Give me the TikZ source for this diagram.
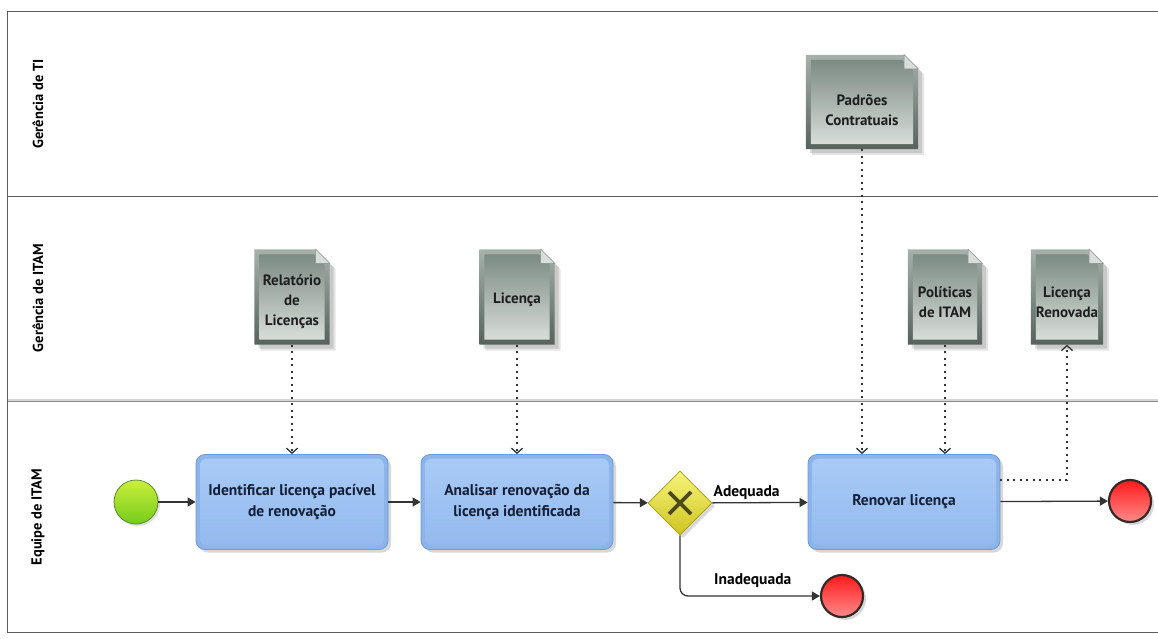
\documentclass[tikz,border=0pt]{standalone}
\usepackage{fontspec}
\setmainfont{PT Sans}
\usetikzlibrary{arrows.meta,shapes.geometric,shadows,calc,backgrounds}

\definecolor{laneline}{HTML}{5C5C5C}
\definecolor{lanesep}{HTML}{8A8A8A}
\definecolor{flowcol}{HTML}{333333}
\definecolor{taskedge}{HTML}{6E9AD6}
\definecolor{taskrim}{HTML}{8CB4EA}
\definecolor{tasktop}{HTML}{A9CBF6}
\definecolor{taskbot}{HTML}{92B9EE}
\definecolor{tasktext}{HTML}{141E36}
\definecolor{docrimtop}{HTML}{A7B1AC}
\definecolor{docrimbot}{HTML}{55635C}
\definecolor{docintop}{HTML}{7C8B84}
\definecolor{docinbot}{HTML}{D8DDDA}
\definecolor{docfold}{HTML}{D9DDDB}
\definecolor{doctext}{HTML}{1E1E1E}
\definecolor{gwtop}{HTML}{F5F47C}
\definecolor{gwbot}{HTML}{CFC420}
\definecolor{gwedge}{HTML}{A69A12}
\definecolor{gwmark}{HTML}{4C4A16}
\definecolor{starttop}{HTML}{CCEE3C}
\definecolor{startbot}{HTML}{74CC1C}
\definecolor{startedge}{HTML}{5C8A2C}
\definecolor{endtop}{HTML}{FF1A1A}
\definecolor{endbot}{HTML}{FF8A8A}
\definecolor{endedge}{HTML}{352828}

% Data object with a folded corner, drawn around an existing node
\newcommand{\drawdoc}[1]{%
  \fill[black,opacity=0.10] ($(#1.north west)+(6,6)$) -- ($(#1.north east)+(-8,6)$)
     -- ($(#1.north east)+(6,20)$) -- ($(#1.south east)+(6,6)$) -- ($(#1.south west)+(6,6)$) -- cycle;
  \fill[black,opacity=0.12] ($(#1.north west)+(4,4)$) -- ($(#1.north east)+(-10,4)$)
     -- ($(#1.north east)+(4,18)$) -- ($(#1.south east)+(4,4)$) -- ($(#1.south west)+(4,4)$) -- cycle;
  \shade[top color=docrimtop,bottom color=docrimbot]
     (#1.north west) -- ($(#1.north east)+(-14,0)$) -- ($(#1.north east)+(0,14)$)
     -- (#1.south east) -- (#1.south west) -- cycle;
  \shade[top color=docintop,bottom color=docinbot]
     ($(#1.north west)+(5,5)$) -- ($(#1.north east)+(-16,5)$) -- ($(#1.north east)+(-5,16)$)
     -- ($(#1.south east)+(-5,-5)$) -- ($(#1.south west)+(5,-5)$) -- cycle;
  \filldraw[fill=docfold,draw=docrimbot!70,line width=0.5pt]
     ($(#1.north east)+(-14,0)$) -- ($(#1.north east)+(-14,14)$) -- ($(#1.north east)+(0,14)$) -- cycle;
}

\begin{document}
\begin{tikzpicture}[x=1pt,y=-1pt,
  every node/.style={font=\bfseries\fontsize{15.5}{21}\selectfont},
  lanelabel/.style={rotate=90,text=black,font=\bfseries\fontsize{14.5}{16}\selectfont},
  task/.style={rectangle,rounded corners=9pt,minimum width=192pt,minimum height=95pt,
    draw=taskedge,line width=0.8pt,fill=taskrim,text=tasktext,align=center,
    drop shadow={opacity=0.3,shadow xshift=3pt,shadow yshift=-3pt},
    path picture={\shade[rounded corners=7pt,top color=tasktop,bottom color=taskbot]
      ([shift={(4pt,-4pt)}]path picture bounding box.north west) rectangle
      ([shift={(-4pt,4pt)}]path picture bounding box.south east);}},
  docbox/.style={rectangle,inner sep=0pt,minimum height=95pt},
  doclabel/.style={align=center,text=doctext,inner sep=0pt,yshift=-5pt,
    font=\bfseries\fontsize{15}{20}\selectfont},
  startev/.style={circle,minimum size=44pt,inner sep=0pt,draw=startedge,line width=0.8pt,
    top color=starttop,bottom color=startbot,
    drop shadow={opacity=0.25,shadow xshift=2pt,shadow yshift=-2pt}},
  endev/.style={circle,minimum size=42pt,inner sep=0pt,draw=endedge,line width=2.2pt,
    top color=endtop,bottom color=endbot,
    drop shadow={opacity=0.3,shadow xshift=3pt,shadow yshift=-3pt}},
  gateway/.style={diamond,aspect=1,minimum width=64pt,minimum height=64pt,inner sep=0pt,
    draw=gwedge,line width=0.8pt,top color=gwtop,bottom color=gwbot,
    drop shadow={opacity=0.3,shadow xshift=3pt,shadow yshift=-3pt},
    path picture={\draw[gwmark,line width=3.6pt]
      ([shift={(-11pt,-11pt)}]path picture bounding box.center) --
      ([shift={(11pt,11pt)}]path picture bounding box.center)
      ([shift={(-11pt,11pt)}]path picture bounding box.center) --
      ([shift={(11pt,-11pt)}]path picture bounding box.center);}},
  flow/.style={draw=flowcol,line width=1.3pt,-{Triangle[length=8pt,width=9pt]}},
  assoc/.style={draw=flowcol,line width=2pt,dash pattern=on 2pt off 4.5pt,
    -{Straight Barb[length=5pt,width=11pt,line width=1.3pt]}},
  flowlabel/.style={text=black,inner sep=2pt}
]
\useasboundingbox (0,0) rectangle (1158,639);

% lanes
\begin{scope}[on background layer]
  \fill[white] (0,0) rectangle (1158,639);
  \draw[laneline,line width=0.8pt] (7,11) -- (1158,11);
  \draw[laneline,line width=0.8pt] (7,196) -- (1158,196);
  \draw[lanesep,double=lanesep!35,double distance=1.2pt,line width=0.9pt] (7,400) -- (1158,400);
  \draw[laneline,line width=0.8pt] (7,11) -- (7,632) -- (1158,632);
\end{scope}
\node[lanelabel] (l1) at (38,104) {Gerência de TI};
\node[lanelabel] (l2) at (38,298) {Gerência de ITAM};
\node[lanelabel] (l3) at (38,517) {Equipe de ITAM};

% flow objects
\node[startev] (start) at (136,502) {};
\node[task] (t1) at (292,502) {Identificar licença pacível\\de renovação};
\node[task] (t2) at (517,502) {Analisar renovação da\\licença identificada};
\node[gateway] (gw) at (680,503) {};
\node[task] (t3) at (904,502) {Renovar licença};
\node[endev] (end1) at (1130,501) {};
\node[endev] (end2) at (842,596) {};

% data objects
\node[docbox,minimum width=75pt,label={[doclabel]center:Relatório\\de\\Licenças}] (d1) at (292,297) {};
\node[docbox,minimum width=75pt,label={[doclabel,yshift=2pt]center:Licença}] (d2) at (517,297) {};
\node[docbox,minimum width=112pt,minimum height=94pt,
      label={[doclabel,yshift=-3pt]center:Padrões\\Contratuais}] (d3) at (862,102) {};
\node[docbox,minimum width=74pt,label={[doclabel]center:Políticas\\de ITAM}] (d4) at (945,297) {};
\node[docbox,minimum width=72pt,label={[doclabel]center:Licença\\Renovada}] (d5) at (1067,297) {};
\begin{scope}[on background layer]
  \drawdoc{d1}\drawdoc{d2}\drawdoc{d3}\drawdoc{d4}\drawdoc{d5}
\end{scope}

% sequence flows
\draw[flow] (start) -- (t1);
\draw[flow] (t1) -- (t2);
\draw[flow] (t2) -- (gw);
\draw[flow] (gw) -- node[flowlabel,pos=0.36,above] {Adequada} (t3);
\draw[flow] (t3) -- (end1);
\draw[flow,rounded corners=8pt] (gw.south) |- node[flowlabel,pos=0.76,above=6pt] {Inadequada} (end2);

% associations
\draw[assoc] (d1) -- (t1);
\draw[assoc] (d2) -- (t2);
\draw[assoc] (d3.south) -- (d3.south |- t3.north);
\draw[assoc] (d4.south) -- (d4.south |- t3.north);
\draw[assoc] ([yshift=-26pt]t3.north east) -| (d5.south);
\end{tikzpicture}
\end{document}
